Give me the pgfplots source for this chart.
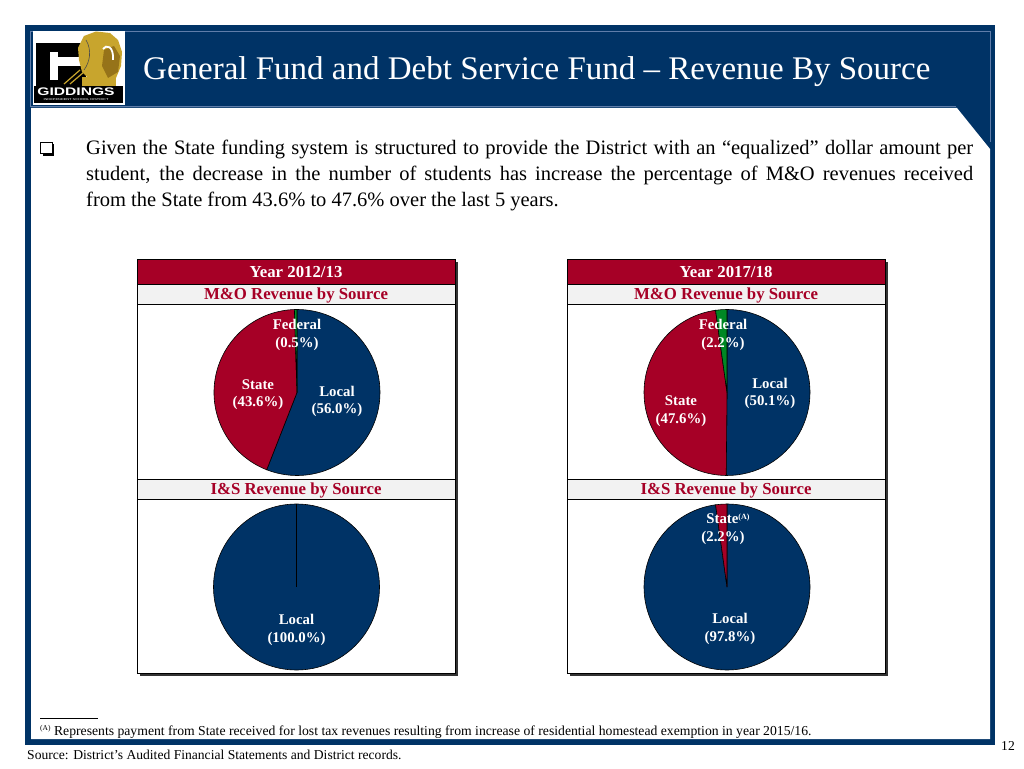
\documentclass[border=0pt]{standalone}
\usepackage{pgfplots}
\pgfplotsset{compat=1.18}
\usepackage{fontspec}
\setmainfont{Liberation Serif}
\newfontfamily\logosans{Liberation Sans}
\definecolor{navy}{RGB}{0,51,102}
\definecolor{navyline}{RGB}{95,125,170}
\definecolor{crimson}{RGB}{166,0,38}
\definecolor{pieblue}{RGB}{0,51,102}
\definecolor{piered}{RGB}{166,0,38}
\definecolor{piegreen}{RGB}{0,136,36}
\definecolor{bandgray}{RGB}{242,242,242}
\definecolor{gold}{RGB}{200,165,45}
\definecolor{golddark}{RGB}{150,115,25}

% one pie slice: colour, cumulative start, cumulative end, total (values in percent); radius 1 = 83pt
\newcommand{\pieslice}[4]{%
  \fill[#1, draw=black, line width=0.6pt] (axis cs:0,0) --
    (axis cs:{cos(90-(#2)/(#4)*360)},{sin(90-(#2)/(#4)*360)})
    arc[start angle={90-(#2)/(#4)*360}, end angle={90-(#3)/(#4)*360}, radius=83pt] -- cycle;}

\newcommand{\pieaxis}[2]{% centre x, centre y (pt, picture coordinates)
  at={(#1pt,#2pt)}, anchor=center, width=166pt, height=166pt, scale only axis,
  xmin=-1, xmax=1, ymin=-1, ymax=1, hide axis, clip=false}

\newcommand{\hdrfont}{\fontsize{16.8}{18}\selectfont\bfseries}
\newcommand{\lblfont}{\fontsize{14.8}{17}\selectfont\bfseries}

\newcommand{\panel}[3]{%
  \fill[black!80] (#1+3,768-676) rectangle (#2+3,768-262);
  \fill[white] (#1,768-673) rectangle (#2,768-259);
  \fill[crimson] (#1,768-284.5) rectangle (#2,768-259);
  \fill[bandgray] (#1,768-304) rectangle (#2,768-284.5);
  \fill[bandgray] (#1,768-499) rectangle (#2,768-479.5);
  \draw[black, line width=0.8pt] (#1,768-673) rectangle (#2,768-259);
  \draw[black, line width=0.6pt] (#1,768-284.5) -- (#2,768-284.5);
  \draw[black, line width=0.8pt] (#1,768-304) -- (#2,768-304);
  \draw[black, line width=0.8pt] (#1,768-479.5) -- (#2,768-479.5);
  \draw[black, line width=0.8pt] (#1,768-499) -- (#2,768-499);
  \node[anchor=base, font=\hdrfont, text=white, inner sep=0pt] at ({(#1+#2)/2},768-278) {Year #3};
  \node[anchor=base, font=\hdrfont, text=crimson, inner sep=0pt] at ({(#1+#2)/2},768-300) {M\&O Revenue by Source};
  \node[anchor=base, font=\hdrfont, text=crimson, inner sep=0pt] at ({(#1+#2)/2},768-494.5) {I\&S Revenue by Source};
}

\newcommand{\lbl}[3]{\node[anchor=base, font=\lblfont, text=white, inner sep=0pt] at (#1,768-#2) {#3};}

\begin{document}
\begin{tikzpicture}
\begin{scope}[x=1pt,y=1pt]
% page
\fill[white] (0,0) rectangle (1024,768);
% navy frame and header
\fill[navy] (25,768-745) rectangle (995,768-25);
\fill[white] (31,768-108) -- (957,768-108) -- (990,768-149) -- (990,768-739) -- (31,768-739) -- cycle;
\draw[navyline, line width=0.7pt] (30,768-106) -- (30,768-31) -- (990,768-31) -- (990,768-142);
\draw[navyline, line width=0.7pt] (30,768-106) -- (956,768-106);

% logo
\fill[white] (33,768-105) rectangle (125,768-31);
% block G
\fill[black] (36,768-86) rectangle (86,768-43);
\fill[white] (50,768-80) rectangle (58,768-52);
\fill[white] (58,768-66) rectangle (86,768-57);
\draw[gold, line width=1.2pt] (64,768-84) -- (80,768-70);
\draw[gold, line width=1.2pt] (70,768-84) -- (84,768-72);
\fill[gold] (82,768-87) rectangle (116,768-77);
% bison
\fill[gold] (78,768-48) -- (84,768-36) -- (96,768-31.5) -- (110,768-33) -- (118,768-40)
  -- (122,768-52) -- (121,768-66) -- (116,768-78) -- (104,768-82) -- (90,768-80)
  -- (82,768-72) -- (79,768-60) -- cycle;
\fill[golddark] (104,768-50) -- (114,768-46) -- (120,768-56) -- (118,768-72) -- (108,768-78) -- (102,768-66) -- cycle;
\draw[black!70, line width=0.6pt] (86,768-40) .. controls (92,768-50) and (90,768-62) .. (84,768-70);
\draw[white, line width=1.8pt] (103,768-49) .. controls (106,768-44) and (114,768-46) .. (113,768-60);
\fill[black] (34,768-103) rectangle (123,768-86);
\node[text=white, font=\logosans\bfseries\fontsize{11}{12}\selectfont, inner sep=0pt] at (76,768-92.2) {\scalebox{1.42}[1]{GIDDINGS}};
\node[text=white, font=\logosans\fontsize{2.8}{3}\selectfont, inner sep=0pt] at (76,768-99.5) {\scalebox{1.4}[1]{INDEPENDENT SCHOOL DISTRICT}};

% title
\node[anchor=base west, text=white, font=\fontsize{33}{36}\selectfont, inner sep=0pt] at (143,768-80)
  {General Fund and Debt Service Fund – Revenue By Source};

% bullet
\fill[black] (42.5,768-156) rectangle (54,768-144.5);
\fill[white, draw=black, line width=1pt] (40.5,768-154) rectangle (52,768-142.5);
\node[anchor=base west, inner sep=0pt, font=\fontsize{20.5}{25.8}\selectfont] at (86,768-154.5)
  {\parbox[t]{887pt}{Given the State funding system is structured to provide the District with an “equalized” dollar amount per\linebreak
   student, the decrease in the number of students has increase the percentage of M\&O revenues received\linebreak
   from the State from 43.6\% to 47.6\% over the last 5 years.}};

% panels
\panel{137}{455}{2012/13}
\panel{567}{885}{2017/18}
\end{scope}

% ---- pies (percent shares, drawn clockwise from 12 o'clock) ----
% 2012/13 M&O: Local 56.0, State 43.6, Federal 0.5
\begin{axis}[\pieaxis{297}{375.5}]
  \pieslice{pieblue}{0}{56.0}{100.1}
  \pieslice{piered}{56.0}{99.6}{100.1}
  \pieslice{piegreen}{99.6}{100.1}{100.1}
\end{axis}
% 2017/18 M&O: Local 50.1, State 47.6, Federal 2.2
\begin{axis}[\pieaxis{727}{375.5}]
  \pieslice{pieblue}{0}{50.1}{99.9}
  \pieslice{piered}{50.1}{97.7}{99.9}
  \pieslice{piegreen}{97.7}{99.9}{99.9}
\end{axis}
% 2012/13 I&S: Local 100.0
\begin{axis}[\pieaxis{296.5}{181}]
  \pieslice{pieblue}{0}{100.0}{100.0}
\end{axis}
% 2017/18 I&S: Local 97.8, State 2.2
\begin{axis}[\pieaxis{727}{181}]
  \pieslice{pieblue}{0}{97.8}{100.0}
  \pieslice{piered}{97.8}{100.0}{100.0}
\end{axis}

\begin{scope}[x=1pt,y=1pt]
% pie labels
\lbl{297}{330}{Federal}
\lbl{297}{347.5}{(0.5\%)}
\lbl{258}{389.5}{State}
\lbl{258}{406.5}{(43.6\%)}
\lbl{337}{396.5}{Local}
\lbl{337}{413.5}{(56.0\%)}

\lbl{723}{330}{Federal}
\lbl{723}{347.5}{(2.2\%)}
\lbl{770}{388.5}{Local}
\lbl{770}{406}{(50.1\%)}
\lbl{681}{406}{State}
\lbl{681}{423.5}{(47.6\%)}

\lbl{296.5}{625}{Local}
\lbl{296.5}{642}{(100.0\%)}

\lbl{728}{523.5}{State\raisebox{4pt}{\fontsize{8}{9}\selectfont (A)}}
\lbl{723}{541.5}{(2.2\%)}
\lbl{730}{624}{Local}
\lbl{730}{641.5}{(97.8\%)}

% footnote
\draw[black, line width=0.6pt] (40,768-718.5) -- (98,768-718.5);
\node[anchor=base west, inner sep=0pt, font=\fontsize{13.7}{15}\selectfont] at (40,768-735)
  {\raisebox{4.5pt}{\fontsize{7.5}{8}\selectfont (A)} Represents payment from State received for lost tax revenues resulting from increase of residential homestead exemption in year 2015/16.};
\node[anchor=base west, inner sep=0pt, font=\fontsize{13.6}{15}\selectfont] at (27,768-759.5)
  {Source: District’s Audited Financial Statements and District records.};
\node[anchor=base west, inner sep=0pt, font=\fontsize{13.6}{15}\selectfont] at (1001,768-750) {12};
\end{scope}
\end{tikzpicture}
\end{document}
